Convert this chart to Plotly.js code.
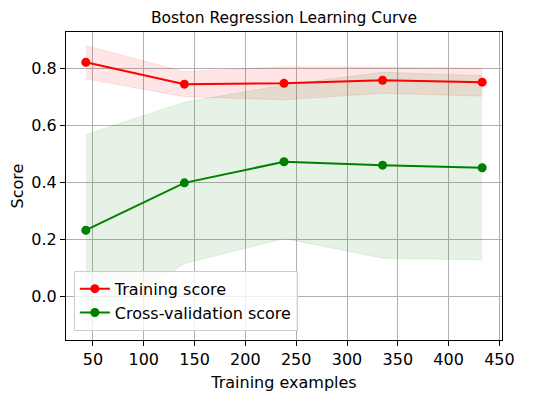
<!DOCTYPE html>
<html>
<head>
<meta charset="utf-8">
<script src="https://cdn.plot.ly/plotly-3.0.1.min.js"></script>
<style>html,body{margin:0;padding:0;background:#fff;}#chart{width:557px;height:401px;}</style>
</head>
<body>
<div id="chart"></div>
<script>
// Learning curve data: training set sizes, mean scores and their standard deviations
const trainSizes = [43, 140, 238, 335, 433];
const trainMean = [0.821, 0.744, 0.747, 0.758, 0.751];
const trainStd = [0.058, 0.044, 0.058, 0.046, 0.049];
const cvMean = [0.232, 0.398, 0.472, 0.460, 0.451];
const cvStd = [0.335, 0.283, 0.269, 0.326, 0.323];
const xTicks = [50, 100, 150, 200, 250, 300, 350, 400, 450];
const yTicks = [0.0, 0.2, 0.4, 0.6, 0.8];

const add = (m, s, k) => m.map((v, i) => v + k * s[i]);

const FONT = 'DejaVu Sans, sans-serif';

function band(mean, std, fillColor) {
  return [
    {x: trainSizes, y: add(mean, std, -1), type: 'scatter', mode: 'lines',
     line: {color: fillColor, width: 1}, showlegend: false, hoverinfo: 'skip'},
    {x: trainSizes, y: add(mean, std, 1), type: 'scatter', mode: 'lines',
     fill: 'tonexty', fillcolor: fillColor,
     line: {color: fillColor, width: 1}, showlegend: false, hoverinfo: 'skip'}
  ];
}

const traces = [
  ...band(trainMean, trainStd, 'rgba(255,0,0,0.1)'),
  ...band(cvMean, cvStd, 'rgba(0,128,0,0.1)'),
  {x: trainSizes, y: trainMean, type: 'scatter', mode: 'lines+markers', name: 'Training score',
   line: {color: 'red', width: 2}, marker: {color: 'red', size: 9}},
  {x: trainSizes, y: cvMean, type: 'scatter', mode: 'lines+markers', name: 'Cross-validation score',
   line: {color: 'green', width: 2}, marker: {color: 'green', size: 9}}
];

const axisCommon = {
  showline: true, mirror: true, linecolor: 'black', linewidth: 1,
  ticks: 'outside', ticklen: 5, tickwidth: 1, tickcolor: 'black',
  showgrid: true, gridcolor: '#b0b0b0', gridwidth: 1, zeroline: false,
  tickfont: {family: FONT, size: 16, color: 'black'}
};

const layout = {
  width: 557, height: 401,
  margin: {l: 66, r: 55, t: 32, b: 61},
  paper_bgcolor: 'white', plot_bgcolor: 'white',
  title: {text: 'Boston Regression Learning Curve', font: {family: FONT, size: 15.5, color: 'black'},
          x: 0.5, xref: 'paper', xanchor: 'center', y: 0.955, yanchor: 'middle'},
  xaxis: Object.assign({}, axisCommon, {
    range: [23.5, 452.5], tickvals: xTicks, ticktext: xTicks.map(String),
    title: {text: 'Training examples', font: {family: FONT, size: 16, color: 'black'}, standoff: 8}
  }),
  yaxis: Object.assign({}, axisCommon, {
    range: [-0.153, 0.927], tickvals: yTicks, ticktext: yTicks.map(v => v.toFixed(1)),
    title: {text: 'Score', font: {family: FONT, size: 16, color: 'black'}, standoff: 3}
  }),
  legend: {x: 0.018, y: 0.03, xanchor: 'left', yanchor: 'bottom', traceorder: 'normal',
           bgcolor: 'rgba(255,255,255,0.8)', bordercolor: '#cccccc', borderwidth: 1,
           font: {family: FONT, size: 16, color: 'black'}, tracegroupgap: 0},
  showlegend: true
};

Plotly.newPlot('chart', traces, layout, {displayModeBar: false, staticPlot: true});
</script>
</body>
</html>
